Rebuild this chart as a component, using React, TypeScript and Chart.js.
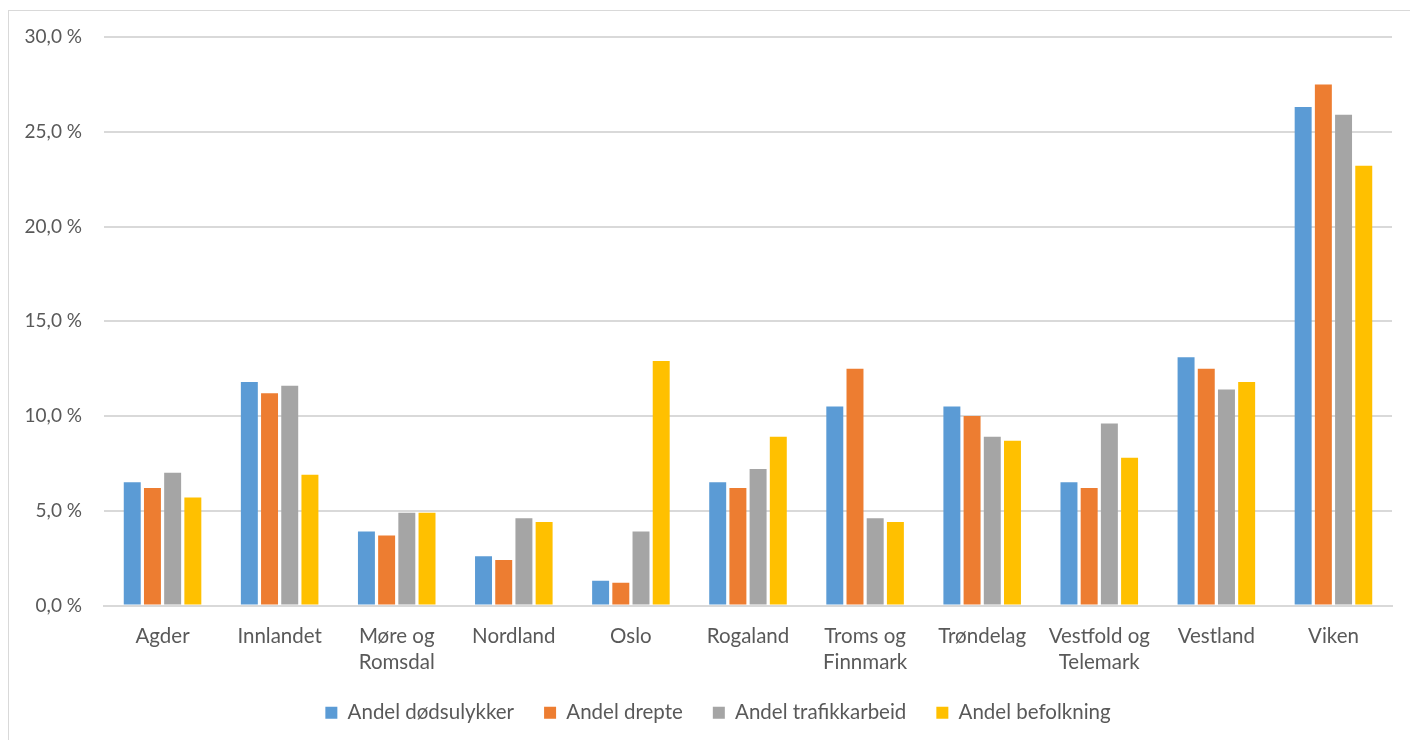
import React, { useEffect, useRef } from "react";
import { Chart, registerables } from "chart.js";

Chart.register(...registerables);

const categories: (string | string[])[] = [
  "Agder",
  "Innlandet",
  ["Møre og", "Romsdal"],
  "Nordland",
  "Oslo",
  "Rogaland",
  ["Troms og", "Finnmark"],
  "Trøndelag",
  ["Vestfold og", "Telemark"],
  "Vestland",
  "Viken",
];

const andelDodsulykker = [6.5, 11.8, 3.9, 2.6, 1.3, 6.5, 10.5, 10.5, 6.5, 13.1, 26.3];
const andelDrepte = [6.2, 11.2, 3.7, 2.4, 1.2, 6.2, 12.5, 10.0, 6.2, 12.5, 27.5];
const andelTrafikkarbeid = [7.0, 11.6, 4.9, 4.6, 3.9, 7.2, 4.6, 8.9, 9.6, 11.4, 25.9];
const andelBefolkning = [5.7, 6.9, 4.9, 4.4, 12.9, 8.9, 4.4, 8.7, 7.8, 11.8, 23.2];

const seriesLabels = ["Andel dødsulykker", "Andel drepte", "Andel trafikkarbeid", "Andel befolkning"];
const seriesColors = ["#5B9BD5", "#ED7D31", "#A5A5A5", "#FFC000"];

const yTicks = [0, 5, 10, 15, 20, 25, 30];

const FONT = "Lato";
const TEXT = "#595959";
const GRID = "#D9D9D9";

export default function App() {
  const ref = useRef<HTMLCanvasElement | null>(null);

  useEffect(() => {
    if (!ref.current) return;
    document.body.style.overflow = "hidden";
    const values = [andelDodsulykker, andelDrepte, andelTrafikkarbeid, andelBefolkning];
    const chart = new Chart(ref.current, {
      type: "bar",
      data: {
        labels: categories,
        datasets: values.map((v, i) => ({
          label: seriesLabels[i],
          data: v,
          backgroundColor: seriesColors[i],
          borderColor: "#FFFFFF",
          borderWidth: 0,
          categoryPercentage: 0.69,
          barPercentage: 0.84,
        })),
      },
      options: {
        animation: false,
        responsive: true,
        maintainAspectRatio: false,
        layout: { padding: { top: 26, right: 0, left: 0, bottom: 36 } },
        plugins: {
          tooltip: { enabled: false },
          legend: {
            position: "bottom",
            labels: {
              boxWidth: 12,
              boxHeight: 12,
              padding: 30,
              color: TEXT,
              font: { family: FONT, size: 20.5 },
            },
          },
        },
        scales: {
          x: {
            grid: { display: false, drawTicks: false },
            border: { display: true, color: GRID, width: 2 },
            ticks: {
              color: TEXT,
              font: { family: FONT, size: 20.5, lineHeight: 1.28 },
              padding: 18,
              maxRotation: 0,
              autoSkip: false,
            },
            afterFit: (s: any) => {
              s.height = 67;
            },
          },
          y: {
            min: 0,
            max: 30,
            afterBuildTicks: (s: any) => {
              s.ticks = yTicks.map((v) => ({ value: v }));
            },
            grid: { color: GRID, lineWidth: 2, drawTicks: false },
            border: { display: false },
            ticks: {
              color: TEXT,
              font: { family: FONT, size: 19 },
              padding: 22,
              callback: (v: any) => Number(v).toFixed(1).replace(".", ",") + " %",
            },
            afterFit: (s: any) => {
              s.width = 95;
              s.paddingTop = 0;
              s.paddingBottom = 0;
            },
          },
          yRight: {
            position: "right",
            min: 0,
            max: 30,
            grid: { display: false, drawTicks: false },
            border: { display: false },
            ticks: { display: false },
            afterFit: (s: any) => {
              s.width = 35;
              s.paddingTop = 0;
              s.paddingBottom = 0;
            },
          },
        },
      },
    });
    return () => chart.destroy();
  }, []);

  return (
    <div
      style={{
        position: "fixed",
        left: 8,
        top: 10,
        width: 1420,
        height: 760,
        border: "1px solid #D9D9D9",
        background: "#fff",
        boxSizing: "border-box",
      }}
    >
      <canvas ref={ref} style={{ display: "block" }} />
    </div>
  );
}
